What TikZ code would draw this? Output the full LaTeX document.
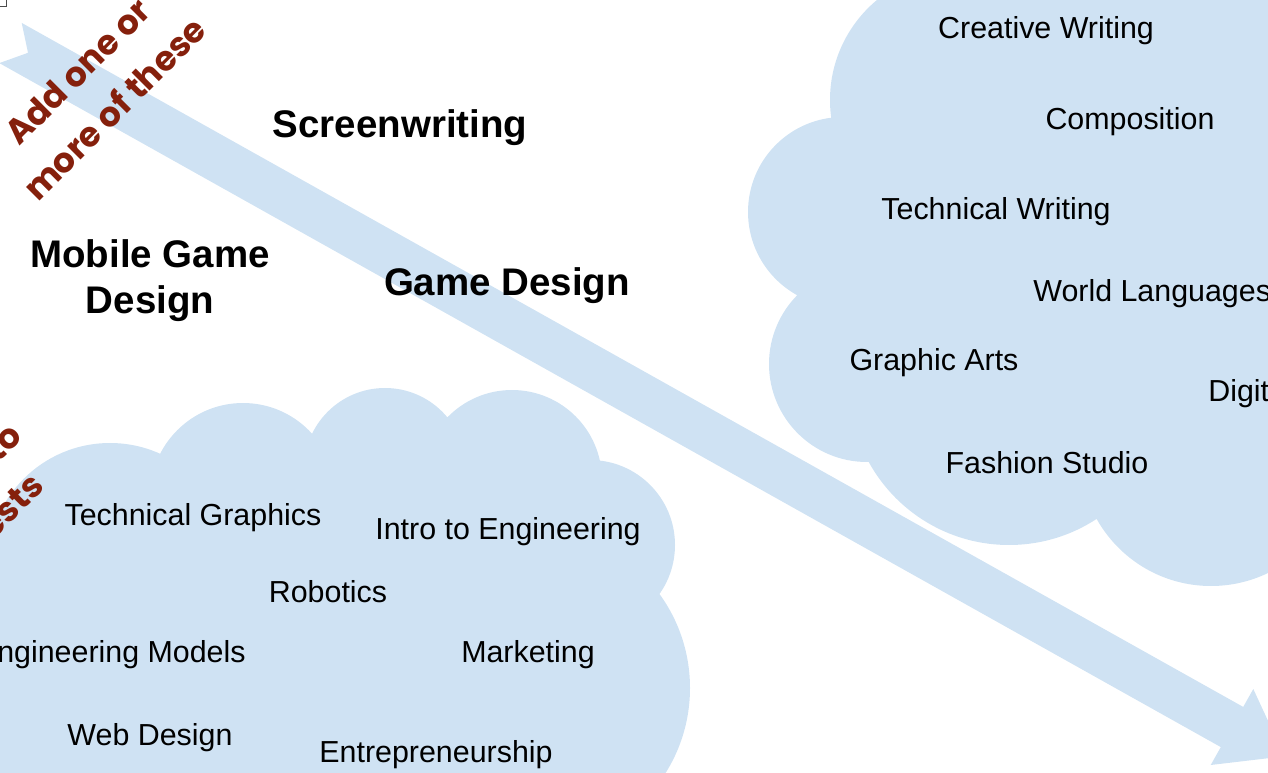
\documentclass[tikz,border=0pt]{standalone}
\usepackage{fontspec}
\setmainfont{Liberation Sans}
\newfontfamily\notefont{Poppins}
\definecolor{cloudblue}{HTML}{CFE2F3}
\definecolor{berry}{HTML}{85200C}

\begin{document}
\begin{tikzpicture}[x=0.02cm, y=-0.02cm,
    cloudpart/.style = {fill=cloudblue, draw=none},
    course/.style = {inner sep=0pt, anchor=base,
      font=\fontsize{17.3}{20}\selectfont},
    bigcourse/.style = {inner sep=0pt, anchor=base, align=center,
      font=\bfseries\fontsize{21.9}{26.1}\selectfont},
    note/.style = {inner sep=0pt, rotate=45, align=center, text=berry,
      font=\notefont\bfseries\fontsize{19.5}{30}\selectfont}]
  \useasboundingbox (0,0) rectangle (1268,773);
  \clip (0,0) rectangle (1268,773);

  % right cloud
  \fill[cloudpart] (960,100) circle (130) (843,212) circle (95)
    (867,364) circle (98) (1009,385) circle (160) (1211,455) circle (131);
  \fill[cloudpart] (960,-20) -- (1290,-20) -- (1290,600) -- (1211,455)
    -- (1009,385) -- (867,364) -- (843,212) -- (960,100) -- cycle;

  % bottom cloud
  \fill[cloudpart] (110,565) circle (122) (243,496) circle (93)
    (385,469) circle (81) (512,480) circle (90) (590,545) circle (85)
    (530,688) circle (160);
  \fill[cloudpart] (-20,520) -- (243,496) -- (385,469) -- (512,480)
    -- (590,545) -- (530,688) -- (680,800) -- (-20,800) -- cycle;

  % big arrow
  \fill[cloudpart] (21.7,22.9) -- (1243.2,706.9) -- (1253.3,689)
    -- (1284.4,756.3) -- (1210.7,765) -- (1220.8,747.1) -- (-0.7,63.1)
    -- (28,52.8) -- cycle;

  \draw[gray!60!black, fill=white] (-4,-4) rectangle (6,6);

  % notes
  \node[note] (addnote) at (96,90) {Add one or\\more of these};
  \node[note, anchor=base east] (notea) at (24,438) {to};
  \node[note, anchor=base east] (noteb) at (46,488) {ests};

  % main courses
  \node[bigcourse] (screen) at (400,138) {Screenwriting};
  \node[bigcourse] (game) at (507,296) {Game Design};
  \node[bigcourse, anchor=center] (mobile) at (150,281) {Mobile Game\\Design};

  % right cloud courses
  \node[course] (creative) at (1046,39) {Creative Writing};
  \node[course] (compo) at (1130,130) {Composition};
  \node[course] (techwr) at (996,220) {Technical Writing};
  \node[course, anchor=base west] (world) at (1033,302) {World Languages};
  \node[course] (graphic) at (934,371) {Graphic Arts};
  \node[course, anchor=base west] (digital) at (1208,402) {Digital};
  \node[course] (fashion) at (1047,474) {Fashion Studio};

  % bottom cloud courses
  \node[course] (techgr) at (193,525) {Technical Graphics};
  \node[course] (intro) at (508,539) {Intro to Engineering};
  \node[course] (robot) at (328,602) {Robotics};
  \node[course, anchor=base east] (models) at (246,662) {Engineering Models};
  \node[course] (market) at (528,662) {Marketing};
  \node[course] (web) at (150,745) {Web Design};
  \node[course] (entre) at (436,762) {Entrepreneurship};
\end{tikzpicture}
\end{document}
